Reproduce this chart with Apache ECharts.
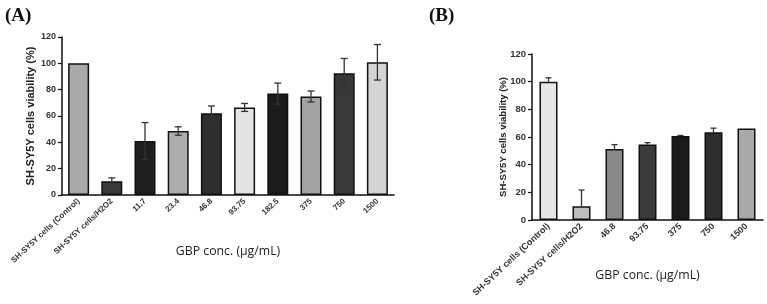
<!DOCTYPE html>
<html>
<head>
<meta charset="utf-8">
<script src="https://cdn.jsdelivr.net/npm/echarts@6/dist/echarts.min.js"></script>
<style>
  html, body { margin: 0; padding: 0; background: #fff; }
  #chart { width: 767px; height: 304px; }
</style>
</head>
<body>
<div id="chart"></div>
<script>
// panel A data
var catsA = ['SH-SY5Y cells (Control)', 'SH-SY5Y cells/H2O2', '11.7', '23.4', '46.8', '93.75', '182.5', '375', '750', '1500'];
var valsA = [100, 10.5, 41, 48.6, 62, 66.5, 77, 74.8, 92.5, 100.8];
var errA = [0, 2.5, 14, 3.2, 5.6, 3, 8, 4.2, 11.2, 13.5];
var colorsA = ['#a9a9a9', '#3a3a3a', '#1e1e1e', '#adadad', '#2e2e2e', '#e4e4e4', '#1b1b1b', '#a2a2a2', '#383838', '#d5d5d5'];

// panel B data
var catsB = ['SH-SY5Y cells (Control)', 'SH-SY5Y cells/H2O2', '46.8', '93.75', '375', '750', '1500'];
var valsB = [100, 10, 51.3, 54.5, 60.8, 63.4, 66.2];
var errB = [2.8, 11.7, 3.2, 1.4, 0.3, 3, 0];
var colorsB = ['#e6e6e6', '#bdbdbd', '#8a8a8a', '#3a3a3a', '#1b1b1b', '#2e2e2e', '#a9a9a9'];

var font = 'Liberation Sans, Arial, sans-serif';

function barData(vals, colors) {
  return vals.map(function (v, i) {
    return { value: v, itemStyle: { color: colors[i] } };
  });
}

function errData(vals, errs) {
  return vals.map(function (v, i) { return [i, v, errs[i]]; });
}

function errRender(capW, both) {
  return function (params, api) {
    var i = api.value(0), v = api.value(1), e = api.value(2);
    if (!e) return null;
    var top = api.coord([i, v + e]);
    var bot = api.coord([i, both ? v - e : v]);
    var st = { stroke: '#333', lineWidth: 1.3 };
    var kids = [
      { type: 'line', shape: { x1: top[0], y1: top[1], x2: bot[0], y2: bot[1] }, style: st },
      { type: 'line', shape: { x1: top[0] - capW / 2, y1: top[1], x2: top[0] + capW / 2, y2: top[1] }, style: st }
    ];
    if (both) {
      kids.push({ type: 'line', shape: { x1: bot[0] - capW / 2, y1: bot[1], x2: bot[0] + capW / 2, y2: bot[1] }, style: st });
    }
    return { type: 'group', children: kids };
  };
}

function xAxis(idx, cats, size, gap) {
  return {
    type: 'category', gridIndex: idx, data: cats,
    axisLine: { lineStyle: { color: '#111', width: 1.5 } },
    axisTick: { length: 4, lineStyle: { color: '#111', width: 1.2 } },
    axisLabel: { rotate: 43, fontSize: size, fontWeight: 'bold', color: '#333', fontFamily: font, margin: 5, interval: 0 },
    name: 'GBP conc. (µg/mL)', nameLocation: 'middle', nameGap: gap, nameMoveOverlap: false,
    nameTextStyle: { fontSize: 12.3, color: '#222', fontFamily: 'Open Sans, Liberation Sans, sans-serif' }
  };
}

function yAxis(idx, size, titleSize, gap) {
  return {
    type: 'value', gridIndex: idx, min: 0, max: 120, interval: 20,
    axisLine: { show: true, lineStyle: { color: '#111', width: 1.5 } },
    axisTick: { show: true, length: 4, lineStyle: { color: '#111', width: 1.2 } },
    splitLine: { show: false },
    axisLabel: { fontSize: size, fontWeight: 'bold', color: '#333', fontFamily: font, margin: 6 },
    name: 'SH-SY5Y cells viability (%)', nameLocation: 'middle', nameGap: gap, nameMoveOverlap: false,
    nameTextStyle: { fontSize: titleSize, fontWeight: 'bold', color: '#222', fontFamily: font }
  };
}

var chart = echarts.init(document.getElementById('chart'), null, { renderer: 'canvas' });

chart.setOption({
  animation: false,
  backgroundColor: '#fff',
  title: [
    { text: '(A)', left: 0, top: 2, textStyle: { fontSize: 19, fontWeight: 'bold', fontFamily: 'Liberation Serif, serif', color: '#111' } },
    { text: '(B)', left: 424, top: 2, textStyle: { fontSize: 19, fontWeight: 'bold', fontFamily: 'Liberation Serif, serif', color: '#111' } }
  ],
  grid: [
    { left: 62, top: 37, width: 332, height: 158 },
    { left: 532, top: 54, width: 231, height: 166 }
  ],
  xAxis: [xAxis(0, catsA, 8, 50), xAxis(1, catsB, 9, 49)],
  yAxis: [yAxis(0, 9, 11, 26), yAxis(1, 9.5, 9.5, 24)],
  series: [
    { type: 'bar', xAxisIndex: 0, yAxisIndex: 0, barWidth: 21, data: barData(valsA, colorsA),
      itemStyle: { borderColor: '#111', borderWidth: 1.5 } },
    { type: 'custom', xAxisIndex: 0, yAxisIndex: 0, data: errData(valsA, errA), renderItem: errRender(7, true), z: 5 },
    { type: 'bar', xAxisIndex: 1, yAxisIndex: 1, barWidth: 18, data: barData(valsB, colorsB),
      itemStyle: { borderColor: '#111', borderWidth: 1.5 } },
    { type: 'custom', xAxisIndex: 1, yAxisIndex: 1, data: errData(valsB, errB), renderItem: errRender(6, false), z: 5 }
  ]
});
</script>
</body>
</html>
